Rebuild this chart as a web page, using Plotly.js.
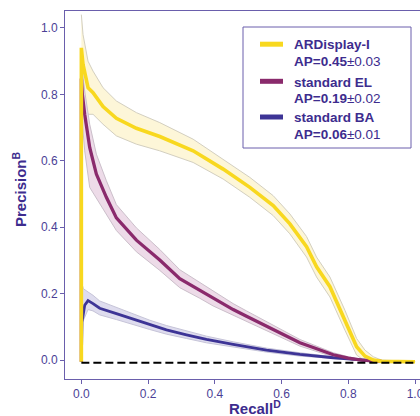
<!DOCTYPE html>
<html>
<head>
<meta charset="utf-8">
<script src="https://cdn.plot.ly/plotly-3.0.1.min.js"></script>
<style>html,body{margin:0;padding:0;background:#fff;}#chart{width:420px;height:416px;}</style>
</head>
<body>
<div id="chart"></div>
<script>
// ---- data ----
var seriesNames = ["ARDisplay-I", "standard EL", "standard BA"];
var apMean = ["0.45", "0.19", "0.06"];
var apStd = ["0.03", "0.02", "0.01"];

var ardX = [0, 0, 0.005, 0.02, 0.035, 0.065, 0.105, 0.165, 0.235, 0.335, 0.425, 0.505, 0.575, 0.625, 0.675, 0.705, 0.745, 0.79, 0.825, 0.85, 0.875, 0.9, 1.0];
var ardY = [-0.005, 0.94, 0.89, 0.82, 0.805, 0.763, 0.728, 0.698, 0.673, 0.63, 0.575, 0.52, 0.465, 0.41, 0.341, 0.281, 0.221, 0.12, 0.04, 0.012, 0.0, -0.004, -0.005];
var ardBandX = [0, 0.005, 0.02, 0.035, 0.065, 0.105, 0.165, 0.235, 0.335, 0.425, 0.505, 0.575, 0.625, 0.675, 0.705, 0.745, 0.79, 0.825, 0.85, 0.875, 0.9, 1.0];
var ardUpper = [1.04, 0.98, 0.90, 0.87, 0.82, 0.78, 0.745, 0.715, 0.665, 0.605, 0.55, 0.495, 0.44, 0.372, 0.31, 0.25, 0.15, 0.065, 0.03, 0.01, 0.0, -0.004];
var ardLower = [0.80, 0.78, 0.74, 0.74, 0.71, 0.675, 0.65, 0.63, 0.595, 0.545, 0.49, 0.435, 0.38, 0.31, 0.25, 0.19, 0.09, 0.015, -0.003, -0.008, -0.008, -0.006];

var elX = [0, 0, 0.003, 0.01, 0.025, 0.045, 0.075, 0.105, 0.165, 0.235, 0.295, 0.355, 0.395, 0.455, 0.495, 0.555, 0.595, 0.655, 0.695, 0.755, 0.8, 0.84, 0.9];
var elY = [-0.005, 0.848, 0.80, 0.74, 0.64, 0.56, 0.49, 0.428, 0.361, 0.301, 0.245, 0.21, 0.185, 0.152, 0.132, 0.102, 0.082, 0.052, 0.038, 0.016, 0.006, 0.0, -0.004];
var elBandX = [0, 0.003, 0.01, 0.025, 0.045, 0.075, 0.105, 0.165, 0.235, 0.295, 0.355, 0.395, 0.455, 0.495, 0.555, 0.595, 0.655, 0.695, 0.755, 0.8, 0.84, 0.9];
var elUpper = [0.90, 0.87, 0.81, 0.71, 0.62, 0.54, 0.468, 0.398, 0.333, 0.272, 0.234, 0.207, 0.17, 0.148, 0.115, 0.094, 0.062, 0.046, 0.022, 0.01, 0.002, -0.003];
var elLower = [0.75, 0.72, 0.63, 0.52, 0.49, 0.44, 0.39, 0.326, 0.27, 0.218, 0.186, 0.163, 0.134, 0.116, 0.089, 0.07, 0.042, 0.03, 0.01, 0.002, -0.003, -0.005];

var baX = [0, 0.002, 0.01, 0.02, 0.035, 0.055, 0.105, 0.155, 0.205, 0.255, 0.315, 0.375, 0.455, 0.555, 0.655, 0.755, 0.85, 0.9];
var baY = [-0.005, 0.115, 0.165, 0.179, 0.17, 0.156, 0.14, 0.124, 0.106, 0.091, 0.076, 0.062, 0.047, 0.03, 0.017, 0.007, 0.0, -0.004];
var baBandX = [0.002, 0.006, 0.02, 0.035, 0.055, 0.105, 0.155, 0.205, 0.255, 0.315, 0.375, 0.455, 0.555, 0.655, 0.755, 0.85, 0.9];
var baUpper = [0.23, 0.215, 0.205, 0.195, 0.178, 0.158, 0.14, 0.12, 0.104, 0.087, 0.072, 0.055, 0.036, 0.022, 0.01, 0.002, -0.003];
var baLower = [0.11, 0.12, 0.152, 0.148, 0.136, 0.122, 0.108, 0.092, 0.078, 0.065, 0.052, 0.039, 0.024, 0.012, 0.004, -0.002, -0.005];

var baselineX = [0, 1.0];
var baselineY = [-0.008, -0.008];

var xTicks = [0, 0.2, 0.4, 0.6, 0.8, 1.0];
var yTicks = [0, 0.2, 0.4, 0.6, 0.8, 1.0];

// ---- styles ----
var lineColors = ["#f8d81f", "#8a2a6c", "#3d3496"];
var bandColors = ["#fdf6d8", "#eddbe8", "#dedcee"];
var edgeColors = ["#d3cfc0", "#cbbfca", "#c6c4d8"];
var axisColor = "#6a5eac";
var textColor = "#4b3f96";
var titleColor = "#3d2c8e";

function band(x, up, lo, i) {
  var px = x.concat(x.slice().reverse());
  var py = up.concat(lo.slice().reverse());
  return {x: px, y: py, type: "scatter", mode: "lines", fill: "toself",
    fillcolor: bandColors[i], line: {color: edgeColors[i], width: 1},
    hoverinfo: "skip", showlegend: false};
}
function curve(x, y, i, w) {
  return {x: x, y: y, type: "scatter", mode: "lines", name: seriesNames[i],
    line: {color: lineColors[i], width: w}, showlegend: false};
}

var data = [
  band(ardBandX, ardUpper, ardLower, 0),
  band(elBandX, elUpper, elLower, 1),
  band(baBandX, baUpper, baLower, 2),
  curve(baX, baY, 2, 2.8),
  curve(elX, elY, 1, 3.3),
  curve(ardX, ardY, 0, 3.6),
  {x: baselineX, y: baselineY, type: "scatter", mode: "lines", showlegend: false,
   line: {color: "#000000", width: 2, dash: "8px,4px"}, hoverinfo: "skip"}
];

// ---- legend drawn as a box with samples and text (paper coords) ----
var plotL = 65, plotW = 355, plotT = 11, plotH = 368;
function px2x(p) { return (p - plotL) / plotW; }
function px2y(p) { return (plotT + plotH - p) / plotH; }

var shapes = [{type: "rect", xref: "paper", yref: "paper",
  x0: px2x(243), x1: px2x(411), y0: px2y(148), y1: px2y(27),
  line: {color: axisColor, width: 1}, fillcolor: "#ffffff", layer: "above"}];
var annotations = [];
var sampleY = [44.2, 81.3, 117];
for (var i = 0; i < seriesNames.length; i++) {
  shapes.push({type: "line", xref: "paper", yref: "paper",
    x0: px2x(260), x1: px2x(283), y0: px2y(sampleY[i]), y1: px2y(sampleY[i]),
    line: {color: lineColors[i], width: 5}, layer: "above"});
  annotations.push({text: "<b>" + seriesNames[i] + "</b>", xref: "paper", yref: "paper",
    x: px2x(292), y: px2y(sampleY[i] + 0.8), xanchor: "left", yanchor: "middle",
    showarrow: false, font: {size: 13.5, color: titleColor}});
  annotations.push({text: "<b>AP=" + apMean[i] + "</b>±" + apStd[i], xref: "paper", yref: "paper",
    x: px2x(292), y: px2y(sampleY[i] + 17), xanchor: "left", yanchor: "middle",
    showarrow: false, font: {size: 13.5, color: titleColor}});
}
annotations.push({text: "<b>Precision<sup>B</sup></b>", xref: "paper", yref: "paper", x: 0, y: 0.5,
  xanchor: "center", yanchor: "middle",
  xshift: -46, yshift: 6, textangle: -90, showarrow: false,
  font: {size: 15, color: titleColor}});
annotations.push({text: "<b>Recall<sup>D</sup></b>", xref: "paper", yref: "paper", x: 0.535, y: 0,
  xanchor: "center", yshift: -28, yanchor: "middle", showarrow: false,
  font: {size: 15, color: titleColor}});

var layout = {
  width: 420, height: 416,
  margin: {l: 65, r: 0, t: 11, b: 37},
  paper_bgcolor: "#ffffff", plot_bgcolor: "#ffffff",
  font: {family: "Liberation Sans, Arial, sans-serif", color: textColor, size: 12},
  showlegend: false,
  xaxis: {range: [-0.049, 1.015], tickvals: xTicks, tickformat: ".1f",
    showgrid: false, zeroline: false, showline: true, linecolor: axisColor, linewidth: 1,
    mirror: true, ticks: "outside", ticklen: 4, tickcolor: axisColor,
    ticklabeloverflow: "allow", tickfont: {size: 12, color: textColor}},
  yaxis: {range: [-0.057, 1.051], tickvals: yTicks, tickformat: ".1f",
    showgrid: false, zeroline: false, showline: true, linecolor: axisColor, linewidth: 1,
    ticks: "outside", ticklen: 4, tickcolor: axisColor,
    tickfont: {size: 12, color: textColor}},
  shapes: shapes,
  annotations: annotations
};

Plotly.newPlot("chart", data, layout, {displayModeBar: false, staticPlot: true});
</script>
</body>
</html>
